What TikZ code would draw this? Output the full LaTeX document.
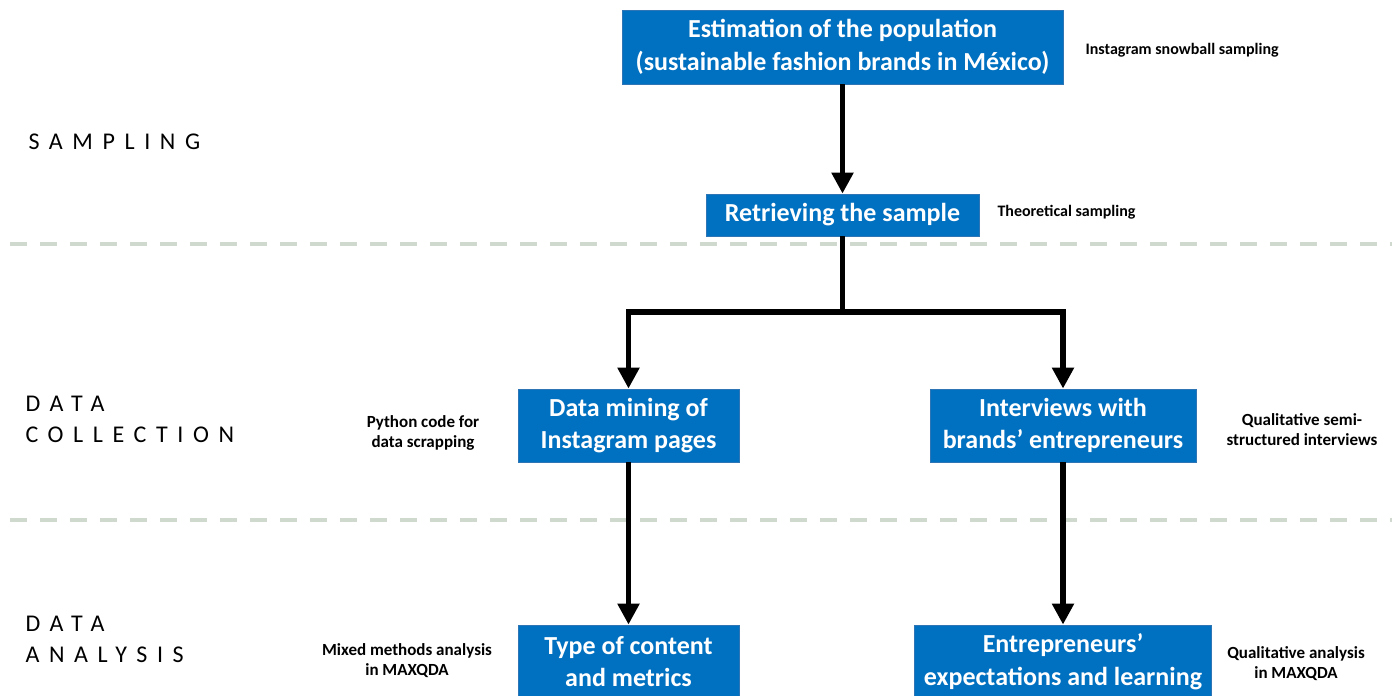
\documentclass[tikz,border=0pt]{standalone}
\usepackage{fontspec}
\setmainfont{Carlito}
\usetikzlibrary{arrows.meta}
\definecolor{boxblue}{HTML}{0070C0}
\definecolor{boxedge}{HTML}{2E75B6}
\definecolor{sepline}{HTML}{D0D9CE}
\begin{document}
\begin{tikzpicture}[x=1pt,y=-1pt,
  stepbox/.style={fill=boxblue,draw=boxedge,line width=0.8pt,text=white,
    font=\bfseries\fontsize{26}{32.5}\selectfont,align=center,inner sep=0pt},
  note/.style={font=\bfseries\fontsize{17}{20}\selectfont,align=center,text=black},
  smallnote/.style={note,font=\bfseries\fontsize{16}{20}\selectfont},
  phase/.style={font=\addfontfeature{LetterSpace=40}\fontsize{24}{31}\selectfont,anchor=base west,align=left},
  flow/.style={line width=5.5pt,-{Triangle[length=21pt,width=21pt]}},
  link/.style={line width=5.5pt},
  sep/.style={sepline,line width=4pt,dash pattern=on 17pt off 13pt}]
\useasboundingbox (0,0) rectangle (1392,696);

% separators between phases
\draw[sep] (10,244) -- (1392,244);
\draw[sep] (10,520) -- (1392,520);

% phase labels (anchored at the baseline of the last line)
\node[phase] (lsamp) at (25,149) {SAMPLING};
\node[phase] (lcoll) at (22,442) {DATA\\COLLECTION};
\node[phase] (lanal) at (22,662) {DATA\\ANALYSIS};

% process boxes
\node[stepbox,minimum width=441pt,minimum height=74pt] (pop) at (842.5,47)
  {Estimation of the population\\(sustainable fashion brands in México)};
\node[stepbox,minimum width=273pt,minimum height=42pt] (ret) at (842.5,215)
  {Retrieving the sample};
\node[stepbox,minimum width=221pt,minimum height=73pt] (mine) at (628.5,425.5)
  {Data mining of\\Instagram pages};
\node[stepbox,minimum width=266pt,minimum height=73pt] (intv) at (1063,425.5)
  {Interviews with\\brands’ entrepreneurs};
\node[stepbox,minimum width=221pt,minimum height=73pt] (type) at (628.5,661.5)
  {Type of content\\and metrics};
\node[stepbox,minimum width=297pt,minimum height=73pt] (expt) at (1063,661.5)
  {Entrepreneurs’\\expectations and learning};

% method notes
\node[smallnote,anchor=west] (n1) at (1082,50) {Instagram snowball sampling};
\node[smallnote,anchor=west] (n2) at (994,212) {Theoretical sampling};
\node[note] (n3) at (423,433) {Python code for\\data scrapping};
\node[note] (n4) at (1302,430) {Qualitative semi-\\structured interviews};
\node[note] (n5) at (407,661) {Mixed methods analysis\\in MAXQDA};
\node[note] (n6) at (1296,664) {Qualitative analysis\\in MAXQDA};

% connectors
\coordinate (split) at (842.5,312);
\draw[flow] (pop.south) -- (ret.north);
\draw[link] (ret.south) -- (split);
\draw[flow] (split) -| (mine.north);
\draw[flow] (split) -| (intv.north);
\draw[flow] (mine.south) -- (type.north);
\draw[flow] (intv.south) -- (expt.north);
\end{tikzpicture}
\end{document}
